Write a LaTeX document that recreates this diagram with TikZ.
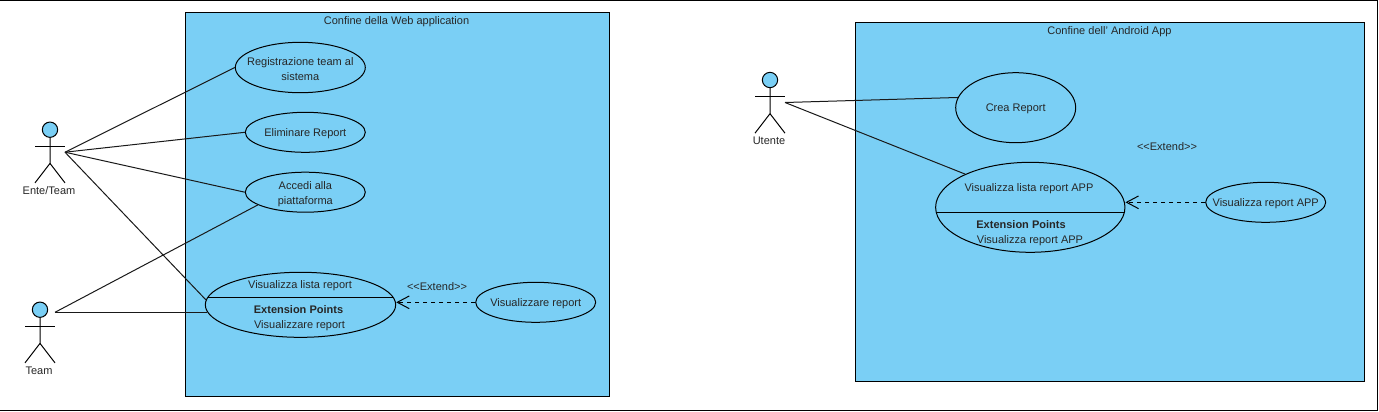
\documentclass[tikz,border=0pt]{standalone}
\usepackage{fontspec}
\setmainfont{Liberation Sans}
\usetikzlibrary{positioning,shapes.geometric,arrows.meta}
\definecolor{vpblue}{HTML}{7ACFF5}

\begin{document}
\begin{tikzpicture}[
    x=0.75pt, y=-0.75pt,
    line width=0.75pt,
    every node/.style={font=\fontsize{8.25}{11.25}\selectfont, inner sep=0pt, text=black!85},
    frame_line/.style={line width=1pt},
    boundary/.style={draw, fill=vpblue, line width=1pt},
    use_case/.style={draw, ellipse, align=center, inner xsep=-10pt, execute at begin node={\rule{0pt}{7.4pt}}},
    case_text/.style={align=center},
    actor_head/.style={draw, circle, fill=vpblue, minimum size=11.5pt},
    assoc/.style={black!90},
    extend_arrow/.style={dashed, dash pattern=on 3pt off 3pt, -{Straight Barb[length=9pt,width=9.5pt]}}
]
    \useasboundingbox (0,0) rectangle (1379,411);
    \draw[frame_line] (0,0.5) -- (1377.7,0.5) -- (1377.7,410.3) -- (0,410.3);
    % Confini
    \draw[boundary] (185.5,12.5) rectangle (609.6,396.2);
    \draw[boundary] (855.4,22.5) rectangle (1364.4,381.2);
    \node (web_title) at (396.5,22) {Confine della Web application};
    \node (app_title) at (1109.5,32) {Confine dell' Android App};
    % Attori
    \foreach \name/\cx/\cy/\hy/\lab in {ente/50/129.7/22.5/{Ente/Team}, team/40/309.7/2.6/{Team}, utente/770/80/22.5/{Utente}} {
        \node[actor_head] (\name) at (\cx,\cy) {};
        \draw (\name.south) -- ++(0,25.5) coordinate (\name_hip) -- ++(-15,19.5);
        \draw (\name_hip) -- ++(15,19.5);
        \draw (\cx-15,\cy+16.3) -- (\cx+15,\cy+16.3);
        \coordinate (\name_hand) at (\cx+15,\cy+\hy);
        \node (\name_label) at (\cx-1,\cy+61) {\lab};
    }
    % Casi d'uso web
    \node[use_case, minimum width=97.5pt, minimum height=37.8pt] (registra) at (300.3,67.5) {};
    \node[case_text] (registra_text) at (300.3,69) {Registrazione team al\\sistema};
    \node[use_case, minimum width=90pt, minimum height=30pt] (elimina) at (305.3,132.3) {Eliminare Report};
    \node[use_case, minimum width=90pt, minimum height=30pt] (accedi) at (305.3,192.2) {};
    \node[case_text] (accedi_text) at (305.3,194) {Accedi alla\\piattaforma};
    \node[use_case, minimum width=142.8pt, minimum height=48.8pt] (lista) at (300.5,304.8) {};
    \node (lista_title) at (300,286) {Visualizza lista report};
    \node (lista_ext) at (298.5,310) {\textbf{Extension Points}};
    \node (lista_item) at (299.5,326) {Visualizzare report};
    \draw (lista.center) ++(-92.4,-7.5) -- ++(184.8,0);
    \node[use_case, minimum width=90pt, minimum height=30pt] (report) at (535.7,302.3) {Visualizzare report};
    \node (web_extend) at (437,287) {<{}<Extend>{}>};
    % Casi d'uso app
    \node[use_case, minimum width=90pt, minimum height=52.5pt] (crea) at (1015.7,107.7) {Crea Report};
    \node[use_case, minimum width=142pt, minimum height=67.5pt] (lista_app) at (1030.3,207.3) {};
    \node (lista_app_title) at (1029,189) {Visualizza lista report APP};
    \node (lista_app_ext) at (1021,225) {\textbf{Extension Points}};
    \node (lista_app_item) at (1030,241) {Visualizza report APP};
    \draw (lista_app.center) ++(-94.2,5) -- ++(188.4,0);
    \node[use_case, minimum width=90pt, minimum height=30pt] (report_app) at (1265.7,202.3) {Visualizza report APP};
    \node (app_extend) at (1167,147) {<{}<Extend>{}>};
    % Associazioni
    \draw[assoc] (ente_hand) -- (registra.west);
    \draw[assoc] (ente_hand) -- (elimina.west);
    \draw[assoc] (ente_hand) -- (accedi.west);
    \draw[assoc] (ente_hand) -- (lista.177);
    \draw[assoc] (team_hand) -- (accedi.195.5);
    \draw[assoc] (team_hand) -- (team_hand -| lista.184.6);
    \draw[assoc] (utente_hand) -- (crea.170.8);
    \draw[assoc] (utente_hand) -- (lista_app.153);
    % Extend
    \draw[extend_arrow] (report.west) -- (report.west -| lista.east);
    \draw[extend_arrow] (report_app.west) -- (report_app.west -| lista_app.east);
\end{tikzpicture}
\end{document}
